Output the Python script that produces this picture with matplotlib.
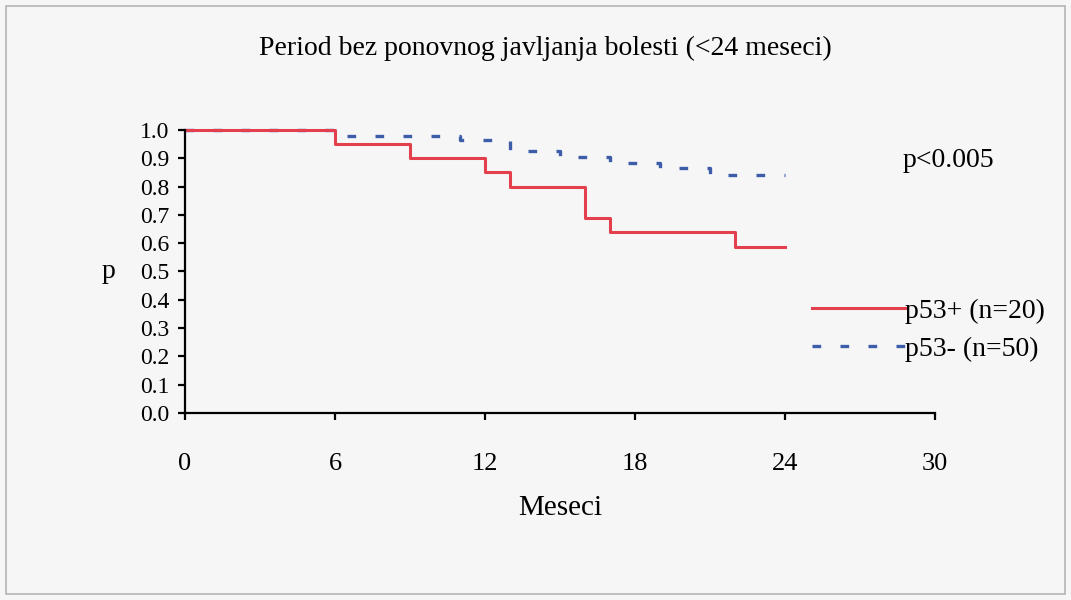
import matplotlib.pyplot as plt
from matplotlib.patches import Rectangle

# Kaplan-Meier steps
months_pos = [0, 6, 9, 12, 13, 16, 17, 22, 24]
surv_pos = [1.0, 0.95, 0.90, 0.85, 0.80, 0.69, 0.64, 0.585, 0.585]
months_neg = [0, 6, 11, 13, 15, 17, 19, 21, 24]
surv_neg = [1.0, 0.98, 0.965, 0.925, 0.905, 0.885, 0.865, 0.84, 0.84]

x_ticks = [0, 6, 12, 18, 24, 30]
y_ticks = [i / 10 for i in range(11)]
label_pos = "p53+ (n=20)"
label_neg = "p53- (n=50)"
RED = "#e43f4c"
BLUE = "#3d5da8"

plt.rcParams["font.family"] = ["Liberation Serif", "DejaVu Serif"]
plt.rcParams["font.size"] = 20

fig = plt.figure(figsize=(10.71, 6.0), dpi=100, facecolor="#f6f6f7")
fig.patches.append(Rectangle((0.006, 0.01), 0.988, 0.98, transform=fig.transFigure,
                             fill=False, edgecolor="#b5b5b8", linewidth=1.2))
ax = fig.add_axes([0.1727, 0.3117, 0.7003, 0.4717])
ax.set_facecolor("none")

ax.step(months_neg, surv_neg, where="post", color=BLUE, lw=2.4,
        linestyle=(0, (2.6, 5.8)), label=label_neg, clip_on=False)
ax.step(months_pos, surv_pos, where="post", color=RED, lw=2.2, label=label_pos, clip_on=False)

ax.set_xlim(0, 30)
ax.set_ylim(0, 1)
ax.set_xticks(x_ticks)
ax.set_yticks(y_ticks)
ax.set_yticklabels([f"{v:.1f}" for v in y_ticks])
for side in ("top", "right"):
    ax.spines[side].set_visible(False)
for side in ("left", "bottom"):
    ax.spines[side].set_linewidth(1.6)
ax.tick_params(direction="out", length=5, width=1.6)
ax.tick_params(axis="y", pad=6, labelsize=17)
ax.tick_params(axis="x", pad=24, labelsize=19)

ax.set_xlabel("Meseci", fontsize=21)
ax.xaxis.set_label_coords(0.5, -0.29)
ax.set_ylabel("p", rotation=0, va="center", ha="center")
ax.yaxis.set_label_coords(-0.102, 0.5)
fig.text(0.509, 0.92, "Period bez ponovnog javljanja bolesti (<24 meseci)",
         ha="center", va="center", fontsize=20)

fig.text(0.843, 0.733, "p<0.005", ha="left", va="center")
handles, labels = ax.get_legend_handles_labels()
fig.legend(handles[::-1], labels[::-1], loc="center left", bbox_to_anchor=(0.758, 0.45),
           frameon=False, handlelength=3.35, handletextpad=0.0, labelspacing=0.46,
           borderpad=0, borderaxespad=0)

fig.savefig("out.png", dpi=100, facecolor=fig.get_facecolor())
